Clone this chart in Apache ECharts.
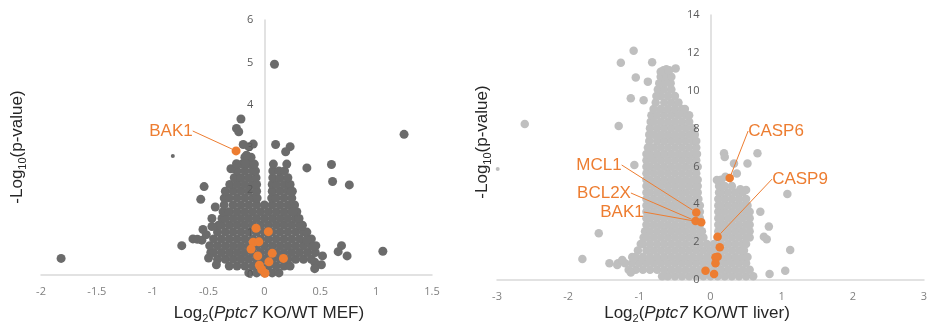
<!DOCTYPE html>
<html>
<head>
<meta charset="utf-8">
<title>Pptc7 KO/WT volcano plots</title>
<script src="https://cdn.jsdelivr.net/npm/echarts@6/dist/echarts.min.js"></script>
<style>
  html, body { margin: 0; padding: 0; background: #fff; }
  #chart { width: 932px; height: 326px; }
</style>
</head>
<body>
<div id="chart"></div>
<script>
// MEF panel, dense cloud: [y, x1, x2, ...]
const mefCloudRows = [
  [0.05, -0.14, -0.07, 0, 0.07, 0.13],
  [0.21, -0.315, -0.245, -0.175, -0.105, -0.035, 0.035, 0.105, 0.175, 0.23],
  [0.37, -0.42, -0.35, -0.28, -0.21, -0.14, -0.07, 0, 0.07, 0.14, 0.21, 0.28, 0.35, 0.42],
  [0.53, -0.48, -0.455, -0.385, -0.315, -0.245, -0.175, -0.105, -0.035, 0.035, 0.105, 0.175, 0.245, 0.315, 0.385, 0.455],
  [0.69, -0.49, -0.42, -0.35, -0.28, -0.21, -0.14, -0.07, 0, 0.07, 0.14, 0.21, 0.28, 0.35, 0.42, 0.46],
  [0.85, -0.455, -0.385, -0.315, -0.245, -0.175, -0.105, -0.035, 0.035, 0.105, 0.175, 0.245, 0.315, 0.385, 0.42],
  [1.01, -0.42, -0.35, -0.28, -0.21, -0.14, -0.07, 0, 0.07, 0.14, 0.21, 0.28, 0.35, 0.38],
  [1.17, -0.41, -0.385, -0.315, -0.245, -0.175, -0.105, -0.035, 0.035, 0.105, 0.175, 0.245, 0.315, 0.34],
  [1.33, -0.38, -0.35, -0.28, -0.21, -0.14, -0.07, 0, 0.07, 0.14, 0.21, 0.28, 0.31],
  [1.49, -0.37, -0.315, -0.245, -0.175, -0.105, -0.035, 0.035, 0.105, 0.175, 0.245, 0.29],
  [1.65, -0.36, -0.28, -0.21, -0.14, -0.07, 0, 0.07, 0.14, 0.21, 0.27],
  [1.81, -0.36, -0.315, -0.245, -0.175, -0.105, -0.065, 0.065, 0.105, 0.175, 0.245],
  [1.97, -0.35, -0.28, -0.21, -0.14, -0.07, 0.07, 0.14, 0.21, 0.25],
  [2.13, -0.31, -0.245, -0.175, -0.105, -0.07, 0.07, 0.105, 0.175, 0.23],
  [2.29, -0.27, -0.21, -0.14, -0.075, 0.075, 0.14, 0.21],
  [2.45, -0.245, -0.175, -0.105, -0.08, 0.075, 0.13, 0.18],
  [2.61, -0.2, -0.14, -0.09, 0.08, 0.2],
  [2.77, -0.175, -0.12]
];
const mefOutliers = [
  [-1.82, 0.39], [1.25, 3.31], [0.09, 4.96], [-0.21, 3.67], [-0.25, 3.45], [-0.23, 3.37],
  [-0.1, 3.08], [-0.14, 3.02], [-0.19, 3.07], [0.1, 3.07], [0.23, 3.02], [0.19, 2.9],
  [0.38, 2.52], [0.6, 2.6], [0.61, 2.2], [0.76, 2.12], [0.69, 0.69], [0.66, 0.55],
  [0.74, 0.45], [1.06, 0.56], [0.51, 0.24], [0.45, 0.3], [-0.74, 0.69], [-0.64, 0.85],
  [-0.6, 0.84], [-0.56, 0.82], [-0.55, 1.07], [-0.47, 1.14], [-0.47, 1.33], [-0.57, 1.78],
  [-0.54, 2.08], [-0.43, 0.24], [-0.17, 2.63], [-0.16, 2.82], [0.24, 1.96], [0.26, 1.49],
  [0.33, 1.14], [0.38, 0.82], [0.44, 0.67], [0.52, 0.45], [0.45, 0.15], [-0.5, 0.4],
  [-0.52, 0.95], [-0.44, 1.6], [-0.3, 2.5], [-0.25, 2.62]
];
const mefTiny = [[-0.82, 2.8]];
const mefOrange = [
  [-0.075, 1.1], [0.035, 1.02], [-0.1, 0.77], [-0.05, 0.78], [-0.12, 0.61], [-0.06, 0.45],
  [0.07, 0.51], [0.04, 0.31], [0.17, 0.39], [-0.045, 0.23], [-0.025, 0.13], [0.005, 0.04]
];
const mefNamed = [['BAK1', -0.254, 2.92]];

// liver panel, dense cloud rows: [y, x1, x2, ...]
const liverCloudRows = [
  [0.2, -0.68, -0.6, -0.5, -0.4, -0.3, -0.2, -0.1, 0, 0.1, 0.2, 0.3, 0.4, 0.5, 0.6],
  [0.54, -1.15, -1.05, -0.95, -0.85, -0.75, -0.65, -0.55, -0.45, -0.35, -0.25, -0.15, -0.05, 0.05, 0.15, 0.25, 0.35, 0.45, 0.55],
  [0.88, -1.42, -1.3, -1.2, -1.1, -1, -0.9, -0.8, -0.7, -0.6, -0.5, -0.4, -0.3, -0.2, -0.1, 0, 0.1, 0.2, 0.3, 0.4, 0.5],
  [1.22, -1.1, -1.05, -0.95, -0.85, -0.75, -0.65, -0.55, -0.45, -0.35, -0.25, -0.15, -0.05, 0.05, 0.15, 0.25, 0.35, 0.45, 0.52],
  [1.56, -1.02, -0.9, -0.8, -0.7, -0.6, -0.5, -0.4, -0.3, -0.2, -0.1, 0, 0.1, 0.2, 0.3, 0.4, 0.47],
  [1.9, -0.98, -0.95, -0.85, -0.75, -0.65, -0.55, -0.45, -0.35, -0.25, -0.15, -0.05, 0.05, 0.15, 0.25, 0.35, 0.45, 0.5],
  [2.24, -0.94, -0.9, -0.8, -0.7, -0.6, -0.5, -0.4, -0.3, -0.2, -0.1, 0.1, 0.2, 0.3, 0.4, 0.5, 0.55],
  [2.58, -0.92, -0.85, -0.75, -0.65, -0.55, -0.45, -0.35, -0.25, -0.15, -0.12, 0.11, 0.15, 0.25, 0.35, 0.45, 0.55],
  [2.92, -0.9, -0.8, -0.7, -0.6, -0.5, -0.4, -0.3, -0.2, -0.15, 0.11, 0.2, 0.3, 0.4, 0.5, 0.55],
  [3.26, -0.9, -0.85, -0.75, -0.65, -0.55, -0.45, -0.35, -0.25, -0.15, 0.11, 0.15, 0.25, 0.35, 0.45, 0.55],
  [3.6, -0.9, -0.8, -0.7, -0.6, -0.5, -0.4, -0.3, -0.2, -0.15, 0.11, 0.2, 0.3, 0.4, 0.5, 0.55],
  [3.94, -0.9, -0.85, -0.75, -0.65, -0.55, -0.45, -0.35, -0.25, -0.15, 0.11, 0.15, 0.25, 0.35, 0.45, 0.52],
  [4.28, -0.9, -0.8, -0.7, -0.6, -0.5, -0.4, -0.3, -0.2, -0.17, 0.11, 0.2, 0.3, 0.4, 0.5],
  [4.62, -0.9, -0.85, -0.75, -0.65, -0.55, -0.45, -0.35, -0.25, -0.18, 0.12, 0.15, 0.25, 0.35, 0.45],
  [4.96, -0.9, -0.8, -0.7, -0.6, -0.5, -0.4, -0.3, -0.2, -0.18, 0.12, 0.2, 0.3],
  [5.3, -0.9, -0.85, -0.75, -0.65, -0.55, -0.45, -0.35, -0.25, -0.18, 0.15],
  [5.64, -0.9, -0.8, -0.7, -0.6, -0.5, -0.4, -0.3, -0.2],
  [5.98, -0.9, -0.85, -0.75, -0.65, -0.55, -0.45, -0.35, -0.25, -0.18],
  [6.32, -0.9, -0.8, -0.7, -0.6, -0.5, -0.4, -0.3, -0.2],
  [6.66, -0.9, -0.85, -0.75, -0.65, -0.55, -0.45, -0.35, -0.25, -0.19],
  [7.0, -0.88, -0.8, -0.7, -0.6, -0.5, -0.4, -0.3, -0.2],
  [7.34, -0.86, -0.75, -0.65, -0.55, -0.45, -0.35, -0.25, -0.2],
  [7.68, -0.86, -0.8, -0.7, -0.6, -0.5, -0.4, -0.3, -0.22],
  [8.02, -0.85, -0.75, -0.65, -0.55, -0.45, -0.35, -0.25],
  [8.36, -0.84, -0.8, -0.7, -0.6, -0.5, -0.4, -0.3],
  [8.7, -0.83, -0.75, -0.65, -0.55, -0.45, -0.35, -0.3],
  [9.04, -0.8, -0.7, -0.6, -0.5, -0.4, -0.36],
  [9.38, -0.77, -0.65, -0.55, -0.45],
  [9.72, -0.76, -0.7, -0.6, -0.5],
  [10.06, -0.74, -0.65, -0.55],
  [10.4, -0.72, -0.64, -0.56],
  [10.74, -0.7, -0.62, -0.55],
  [11.08, -0.66, -0.58]
];
const liverOutliers = [
  [-1.08, 12.11], [-1.26, 11.48], [-0.82, 11.5], [-1.05, 10.7], [-0.88, 10.48], [-1.12, 9.6],
  [-0.94, 9.5], [-1.29, 8.13], [-2.61, 8.24], [-1.07, 6.07], [-1.57, 2.47], [-1.8, 1.11],
  [-1.12, 0.39], [-0.62, 11.13], [-0.49, 11.18], [-0.7, 11.0], [1.08, 4.54], [0.66, 6.69],
  [0.19, 6.69], [0.2, 6.5], [0.33, 6.16], [0.52, 6.16], [0.09, 5.28], [0.21, 5.46],
  [0.37, 5.63], [0.42, 4.8], [0.5, 4.75], [1.12, 1.58], [1.05, 0.49], [0.83, 0.32],
  [0.7, 3.61], [0.82, 2.82], [0.75, 2.29], [0.79, 2.15], [-1.31, 0.79], [-1.24, 1.06]
];
const liverTiny = [[-2.99, 5.86]];
const liverOrange = [
  [0.13, 1.73], [0.1, 1.23], [0.07, 1.2], [0.07, 0.88], [-0.07, 0.49], [0.05, 0.32]
];
const liverNamed = [
  ['MCL1', -0.2, 3.57], ['BCL2X', -0.21, 3.12], ['BAK1', -0.13, 3.05],
  ['CASP6', 0.27, 5.39], ['CASP9', 0.1, 2.29]
];

// label text centres in pixels
const mefLabelAt = [[171, 131]];
const liverLabelAt = [[599, 165], [604, 193], [622, 212], [776, 131], [800, 179]];

const ORANGE = '#ed7d31';
const X_TICK = { color: '#808080', fontSize: 11, fontFamily: 'Open Sans' };
const Y_TICK = { color: '#595959', fontSize: 11, fontFamily: 'Open Sans' };

function rowsToPoints(rows) {
  const pts = [];
  rows.forEach(r => {
    for (let i = 1; i < r.length; i++) pts.push([r[i], r[0]]);
  });
  return pts;
}

function xAxisFor(grid, min, max, interval) {
  return {
    gridIndex: grid, type: 'value', min: min, max: max, interval: interval,
    axisLine: { onZero: false, lineStyle: { color: '#d9d9d9', width: 1.5 } },
    axisTick: { show: false },
    splitLine: { show: false },
    axisLabel: Object.assign({ margin: 11 }, X_TICK)
  };
}

// labelOffset moves the label-only axis from the grid edge onto x = 0
function yAxesFor(grid, max, interval, labelOffset) {
  const base = { gridIndex: grid, type: 'value', min: 0, max: max, interval: interval, position: 'left',
    axisTick: { show: false }, splitLine: { show: false } };
  return [
    // line only, under the points
    Object.assign({}, base, {
      axisLine: { show: true, onZero: true, lineStyle: { color: '#d9d9d9', width: 1.5 } },
      axisLabel: { show: false }
    }),
    // labels only, on top of the points
    Object.assign({}, base, {
      z: 10,
      offset: labelOffset,
      axisLine: { show: false, onZero: false },
      axisLabel: Object.assign({ margin: 11 }, Y_TICK)
    })
  ];
}

function cloud(xi, yi, data, color, size, z) {
  return { type: 'scatter', xAxisIndex: xi, yAxisIndex: yi, data: data, symbolSize: size,
    itemStyle: { color: color, opacity: 1 }, silent: true, z: z || 2 };
}

function named(xi, yi, list, at, size) {
  return {
    type: 'scatter', xAxisIndex: xi, yAxisIndex: yi, symbolSize: size, z: 5, silent: true,
    itemStyle: { color: ORANGE, opacity: 1 },
    data: list.map(d => ({ name: d[0], value: [d[1], d[2]] })),
    label: { show: true, formatter: '{b}', color: ORANGE, fontSize: 17, fontFamily: 'Liberation Sans' },
    labelLine: { show: true, lineStyle: { color: ORANGE, width: 1 } },
    labelLayout: p => ({ x: at[p.dataIndex][0], y: at[p.dataIndex][1], align: 'center', verticalAlign: 'middle' })
  };
}

const titleRich = {
  n: { fontSize: 17, fontFamily: 'Liberation Sans', color: '#262626', lineHeight: 22 },
  i: { fontSize: 17, fontFamily: 'Liberation Sans', fontStyle: 'italic', color: '#262626', lineHeight: 22 },
  s: { fontSize: 11, fontFamily: 'Liberation Sans', color: '#262626', verticalAlign: 'bottom', lineHeight: 11 }
};

function titleText(x, y, text, rot) {
  return {
    type: 'text', x: x, y: y, rotation: rot || 0, silent: true,
    style: { text: text, rich: titleRich, fill: '#262626', font: '17px "Liberation Sans"',
      align: 'center', verticalAlign: 'middle', textAlign: 'center', textVerticalAlign: 'middle' }
  };
}

const option = {
  animation: false,
  backgroundColor: '#fff',
  grid: [
    { left: 41, top: 20, width: 391, height: 255 },
    { left: 497, top: 15, width: 427, height: 265 }
  ],
  xAxis: [xAxisFor(0, -2, 1.5, 0.5), xAxisFor(1, -3, 3, 1)],
  yAxis: yAxesFor(0, 6, 1, -223.4).concat(yAxesFor(1, 14, 2, -213.5)),
  series: [
    cloud(0, 0, rowsToPoints(mefCloudRows).concat(mefOutliers), '#6b6b6b', 9),
    cloud(0, 0, mefTiny, '#6b6b6b', 4),
    cloud(0, 0, mefOrange, ORANGE, 9, 4),
    named(0, 0, mefNamed, mefLabelAt, 9),
    cloud(1, 2, rowsToPoints(liverCloudRows).concat(liverOutliers), '#bfbfbf', 8.5),
    cloud(1, 2, liverTiny, '#bfbfbf', 4),
    cloud(1, 2, liverOrange, ORANGE, 8.5, 4),
    named(1, 2, liverNamed, liverLabelAt, 8.5)
  ],
  graphic: [
    titleText(269, 313, '{n|Log}{s|2}{n|(}{i|Pptc7}{n| KO/WT MEF)}'),
    titleText(697, 313, '{n|Log}{s|2}{n|(}{i|Pptc7}{n| KO/WT liver)}'),
    titleText(17, 147, '{n|-Log}{s|10}{n|(p-value)}', Math.PI / 2),
    titleText(482, 142, '{n|-Log}{s|10}{n|(p-value)}', Math.PI / 2)
  ]
};

const chart = echarts.init(document.getElementById('chart'));
chart.setOption(option);

window.addEventListener('resize', () => {
  chart.resize();
});
</script>
</body>
</html>
